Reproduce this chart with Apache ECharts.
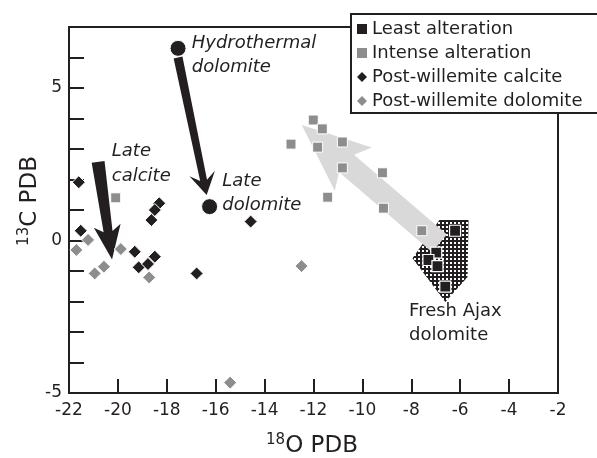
<!DOCTYPE html>
<html><head><meta charset="utf-8">
<script src="https://cdn.jsdelivr.net/npm/echarts@6/dist/echarts.min.js"></script>
<style>html,body{margin:0;padding:0;background:#fff;overflow:hidden}#c{width:597px;height:458px}</style>
</head><body><div id="c"></div>
<script>
// ---- data (x = d18O PDB, y = d13C PDB) ----
const leastX = [-6.21, -6.98, -7.30, -6.93, -6.61];
const leastY = [0.32, -0.40, -0.64, -0.84, -1.51];
const intenseX = [-12.01, -11.64, -12.92, -11.83, -10.82, -10.82, -9.18, -11.42, -9.14, -7.57, -20.09];
const intenseY = [3.95, 3.66, 3.16, 3.06, 3.23, 2.38, 2.22, 1.42, 1.06, 0.32, 1.40];
const calciteX = [-21.60, -21.52, -18.31, -18.49, -18.63, -14.57, -19.31, -19.15, -18.77, -18.49, -16.78];
const calciteY = [1.91, 0.32, 1.22, 1.00, 0.67, 0.62, -0.37, -0.88, -0.77, -0.53, -1.08];
const dolomiteX = [-21.70, -21.22, -20.95, -20.57, -19.88, -18.72, -12.49, -15.41];
const dolomiteY = [-0.31, 0.02, -1.08, -0.86, -0.28, -1.21, -0.84, -4.66];
// end members: hydrothermal dolomite, late dolomite
const endMemberX = [-17.54, -16.25];
const endMemberY = [6.30, 1.11];
// arrows: tail -> tip
const blackArrowTailX = [-17.54, -20.81];
const blackArrowTailY = [6.00, 2.58];
const blackArrowTipX = [-16.37, -20.24];
const blackArrowTipY = [1.49, -0.62];
const grayArrowTailX = [-6.85];
const grayArrowTailY = [-0.09];
const grayArrowTipX = [-12.48];
const grayArrowTipY = [3.79];
// fresh Ajax dolomite field outline
const fieldX = [-6.85, -5.66, -5.70, -6.61, -7.95];
const fieldY = [0.67, 0.67, -1.20, -2.02, -0.58];
// annotations
const noteText = ['Hydrothermal', 'dolomite', 'Late', 'dolomite', 'Late', 'calcite', 'Fresh Ajax', 'dolomite'];
const noteX = [-16.98, -16.98, -15.73, -15.73, -20.25, -20.25, -8.09, -8.09];
const noteY = [6.47, 5.67, 1.93, 1.14, 2.91, 2.12, -2.31, -3.10];
const noteItalic = [1, 1, 1, 1, 1, 1, 0, 0];
// axis ticks
const xTickMin = -22, xTickMax = -2, xTickStep = 2;
const yTickMin = -5, yTickMax = 7, yTickStep = 1, yLabelEvery = 5;
const legendNames = ['Least alteration', 'Intense alteration', 'Post-willemite calcite', 'Post-willemite dolomite'];

// ---- styling ----
const FONT = 'DejaVu Sans';
const INK = '#231f20';
const GRAY = '#8d8d8d';
const pts = (xs, ys) => xs.map((x, i) => [x, ys[i]]);

const pat = document.createElement('canvas'); pat.width = 4; pat.height = 4;
const pc = pat.getContext('2d');
pc.fillStyle = '#fff'; pc.fillRect(0, 0, 4, 4);
pc.fillStyle = INK; pc.fillRect(0, 0, 4, 2); pc.fillRect(0, 0, 2, 4);

function arrowPoints(a, b, s) {
  const dx = b[0] - a[0], dy = b[1] - a[1];
  const L = Math.hypot(dx, dy), ux = dx / L, uy = dy / L, nx = -uy, ny = ux;
  const P = (al, sd) => [a[0] + ux * al + nx * sd, a[1] + uy * al + ny * sd];
  const j = L - s.neck, bb = L - s.headLen;
  return [P(0, -s.tailW / 2), P(j, -s.neckW / 2), P(bb, -s.headW / 2), P(L, 0),
          P(bb, s.headW / 2), P(j, s.neckW / 2), P(0, s.tailW / 2)];
}
const blackStyles = [
  {tailW: 9, neckW: 7, headW: 26, headLen: 22, neck: 15},
  {tailW: 13, neckW: 9, headW: 27, headLen: 34, neck: 28}
];
const grayStyle = {tailW: 23, neckW: 23, headW: 57, headLen: 68, neck: 59};

const chart = echarts.init(document.getElementById('c'), null, {renderer: 'canvas', width: 597, height: 458});
const axisCommon = {
  type: 'value',
  axisLine: {onZero: false, lineStyle: {color: INK, width: 2}},
  axisTick: {inside: true, lineStyle: {color: INK, width: 2}},
  splitLine: {show: false},
  axisLabel: {fontFamily: FONT, fontSize: 17, color: INK}
};
chart.setOption({
  animation: false,
  backgroundColor: '#fff',
  grid: {left: 69, right: 39, top: 27, bottom: 65, show: true, borderColor: INK, borderWidth: 2, outerBoundsMode: 'none', containLabel: false},
  xAxis: Object.assign({}, axisCommon, {
    min: xTickMin, max: xTickMax, interval: xTickStep,
    axisTick: {inside: true, length: 14, lineStyle: {color: INK, width: 2}},
    axisLabel: {fontFamily: FONT, fontSize: 17, color: INK, margin: 9, showMinLabel: true, showMaxLabel: true}
  }),
  yAxis: Object.assign({}, axisCommon, {
    min: yTickMin, max: yTickMax, interval: yTickStep,
    axisTick: {inside: true, length: 15, lineStyle: {color: INK, width: 2}},
    axisLabel: {fontFamily: FONT, fontSize: 17, color: INK, margin: 7,
      formatter: v => (v % yLabelEvery === 0 ? String(v) : '')}
  }),
  legend: {
    orient: 'vertical', left: 351, top: 14, z: 20,
    data: legendNames,
    padding: [5, 0, 2, 6], itemGap: 4, itemWidth: 10, itemHeight: 10,
    textStyle: {fontFamily: FONT, fontSize: 18, color: INK, lineHeight: 20},
    itemStyle: {borderWidth: 0},
    selectedMode: false
  },
  graphic: [
    {type: 'rect', z: 14, shape: {x: 351, y: 14, width: 300, height: 99},
      style: {fill: '#fff', lineWidth: 0}},
    {type: 'polyline', z: 15, shape: {points: [[700, 14], [351, 14], [351, 113], [700, 113]]},
      style: {fill: null, stroke: INK, lineWidth: 2}},
    {type: 'text', x: 312, y: 446, z: 10, style: {text: '{s|18}O PDB', font: '23px "DejaVu Sans"', fill: INK,
      align: 'center', verticalAlign: 'middle',
      rich: {s: {fontFamily: FONT, fontSize: 15, fill: INK, padding: [0, 0, 11, 0]}}}},
    {type: 'text', x: 30, y: 201, rotation: Math.PI / 2, z: 10, style: {text: '{s|13}C PDB', font: '23px "DejaVu Sans"', fill: INK,
      align: 'center', verticalAlign: 'middle',
      rich: {s: {fontFamily: FONT, fontSize: 15, fill: INK, padding: [0, 0, 11, 0]}}}}
  ],
  series: [
    {type: 'custom', silent: true, data: [[fieldX[0], fieldY[0]]],
      renderItem: (p, api) => ({type: 'polygon',
        shape: {points: fieldX.map((x, i) => api.coord([x, fieldY[i]]))},
        style: {fill: {image: pat, repeat: 'repeat'}}})},
    {type: 'custom', silent: true,
      data: grayArrowTailX.map((x, i) => [x, grayArrowTailY[i], grayArrowTipX[i], grayArrowTipY[i]]),
      renderItem: (p, api) => ({type: 'polygon',
        shape: {points: arrowPoints(api.coord([api.value(0), api.value(1)]), api.coord([api.value(2), api.value(3)]), grayStyle)},
        style: {fill: '#d9d9d9'}})},
    {name: 'Intense alteration', type: 'scatter', symbol: 'rect', symbolSize: 10, silent: true,
      itemStyle: {color: GRAY, borderColor: '#fff', borderWidth: 1, opacity: 1}, data: pts(intenseX, intenseY)},
    {name: 'Least alteration', type: 'scatter', symbol: 'rect', symbolSize: 11, silent: true,
      itemStyle: {color: INK, borderColor: '#fff', borderWidth: 1.2, opacity: 1}, data: pts(leastX, leastY)},
    {name: 'Post-willemite calcite', type: 'scatter', symbol: 'diamond', symbolSize: 13, silent: true,
      itemStyle: {color: INK, borderColor: '#fff', borderWidth: 1, opacity: 1}, data: pts(calciteX, calciteY)},
    {name: 'Post-willemite dolomite', type: 'scatter', symbol: 'diamond', symbolSize: 13, silent: true,
      itemStyle: {color: GRAY, borderColor: '#fff', borderWidth: 1, opacity: 1}, data: pts(dolomiteX, dolomiteY)},
    {type: 'custom', silent: true,
      data: blackArrowTailX.map((x, i) => [x, blackArrowTailY[i], blackArrowTipX[i], blackArrowTipY[i], i]),
      renderItem: (p, api) => ({type: 'polygon',
        shape: {points: arrowPoints(api.coord([api.value(0), api.value(1)]), api.coord([api.value(2), api.value(3)]), blackStyles[api.value(4)])},
        style: {fill: INK}})},
    {type: 'scatter', symbol: 'circle', symbolSize: 16, silent: true,
      itemStyle: {color: INK, borderColor: '#fff', borderWidth: 1, opacity: 1}, data: pts(endMemberX, endMemberY)},
    {type: 'custom', silent: true,
      data: noteX.map((x, i) => [x, noteY[i], i]),
      renderItem: (p, api) => {
        const i = api.value(2); const c = api.coord([api.value(0), api.value(1)]);
        return {type: 'text', x: c[0], y: c[1],
          style: {text: noteText[i], font: (noteItalic[i] ? 'italic ' : '') + '18px "DejaVu Sans"', fill: INK,
            align: 'left', verticalAlign: 'middle'}};
      }}
  ]
});
</script></body></html>
